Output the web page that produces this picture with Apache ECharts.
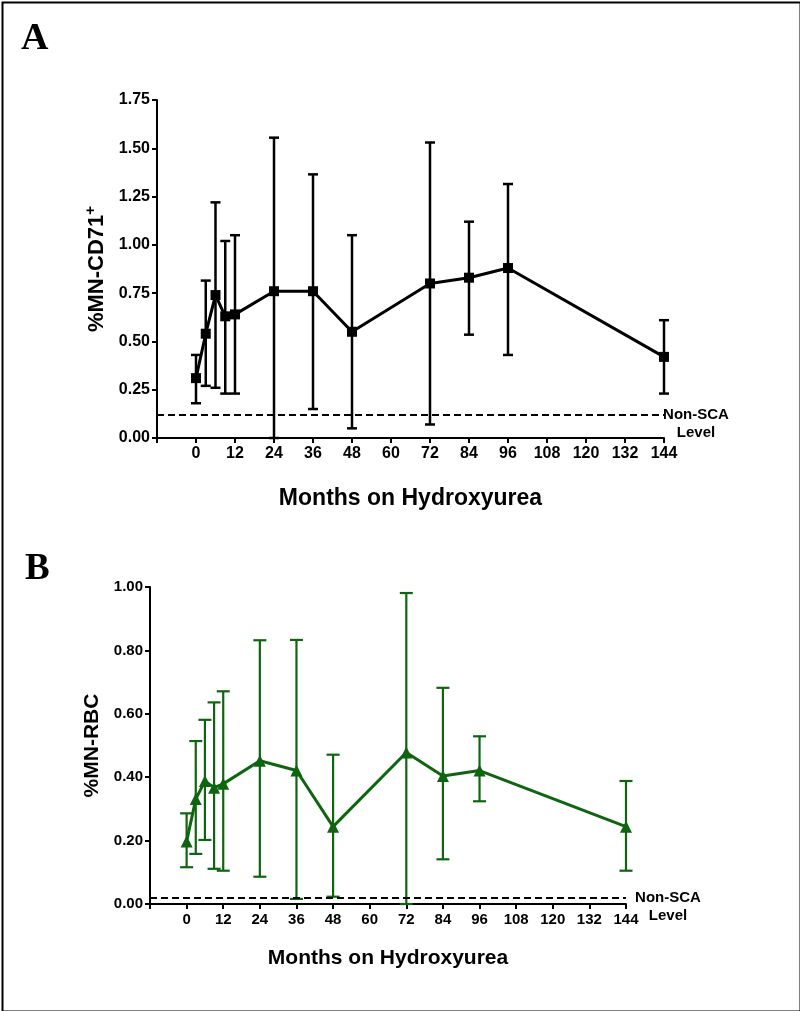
<!DOCTYPE html>
<html>
<head>
<meta charset="utf-8">
<script src="https://cdn.jsdelivr.net/npm/echarts@6/dist/echarts.min.js"></script>
<style>
html,body{margin:0;padding:0;background:#fff;}
#chart{width:800px;height:1011px;}
</style>
</head>
<body>
<div id="chart"></div>
<script>
// ---- Data ----
const months = [0, 3, 6, 9, 12, 24, 36, 48, 72, 84, 96, 144];
const xTicks = [0, 12, 24, 36, 48, 60, 72, 84, 96, 108, 120, 132, 144];

// Panel A: %MN-CD71+
const cd71Mean = [0.31, 0.54, 0.74, 0.63, 0.64, 0.76, 0.76, 0.55, 0.80, 0.83, 0.88, 0.42];
const cd71Low  = [0.18, 0.27, 0.26, 0.23, 0.23, 0.00, 0.15, 0.05, 0.07, 0.535, 0.43, 0.23];
const cd71High = [0.43, 0.815, 1.22, 1.02, 1.05, 1.555, 1.365, 1.05, 1.53, 1.12, 1.315, 0.61];
const cd71NonSCA = 0.12;

// Panel B: %MN-RBC
const rbcMean = [0.197, 0.331, 0.388, 0.367, 0.379, 0.452, 0.421, 0.244, 0.478, 0.404, 0.421, 0.244];
const rbcLow  = [0.116, 0.158, 0.202, 0.111, 0.105, 0.086, 0.016, 0.023, 0.0, 0.141, 0.324, 0.105];
const rbcHigh = [0.286, 0.514, 0.581, 0.636, 0.671, 0.832, 0.833, 0.471, 0.981, 0.682, 0.529, 0.388];
const rbcNonSCA = 0.02;

// ---- Build ----
const FONT = 'Liberation Sans, Arial, Helvetica, sans-serif';
const GREEN = '#0f650f';

function errData(low, high) {
  return months.map((m, i) => [m, low[i], high[i]]);
}
function errRender(capHalf, color, width) {
  return function (params, api) {
    const x = api.value(0);
    const lo = api.coord([x, api.value(1)]);
    const hi = api.coord([x, api.value(2)]);
    const st = { stroke: color, lineWidth: width, fill: null };
    return {
      type: 'group',
      children: [
        { type: 'line', shape: { x1: lo[0], y1: lo[1], x2: hi[0], y2: hi[1] }, style: st },
        { type: 'line', shape: { x1: hi[0] - capHalf, y1: hi[1], x2: hi[0] + capHalf, y2: hi[1] }, style: st },
        { type: 'line', shape: { x1: lo[0] - capHalf, y1: lo[1], x2: lo[0] + capHalf, y2: lo[1] }, style: st }
      ]
    };
  };
}
function xAxisCfg(idx, labelSize, titleSize, gap) {
  return {
    gridIndex: idx, type: 'value', min: -12, max: 144, interval: 12,
    name: 'Months on Hydroxyurea', nameLocation: 'middle', nameGap: gap,
    nameTextStyle: { fontFamily: FONT, fontWeight: 'bold', fontSize: titleSize, color: '#000' },
    axisLine: { show: true, onZero: false, lineStyle: { color: '#000', width: 2 } },
    axisTick: { show: true, length: 5, lineStyle: { color: '#000', width: 2 } },
    axisLabel: {
      fontFamily: FONT, fontWeight: 'bold', fontSize: labelSize, color: '#000', margin: 8,
      formatter: v => (xTicks.indexOf(v) >= 0 ? String(v) : '')
    },
    splitLine: { show: false }
  };
}
function yAxisCfg(idx, max, interval, labelSize, name, rich, gap) {
  return {
    gridIndex: idx, type: 'value', min: 0, max: max, interval: interval,
    name: name, nameLocation: 'middle', nameRotate: 90, nameGap: gap,
    nameTextStyle: { fontFamily: FONT, fontWeight: 'bold', color: '#000', rich: rich },
    axisLine: { show: true, onZero: false, lineStyle: { color: '#000', width: 2 } },
    axisTick: { show: true, length: 5, lineStyle: { color: '#000', width: 2 } },
    axisLabel: { fontFamily: FONT, fontWeight: 'bold', fontSize: labelSize, color: '#000', margin: 7,
      formatter: v => v.toFixed(2) },
    splitLine: { show: false }
  };
}
function refLine(y, size, dist) {
  const t = { fontFamily: FONT, fontWeight: 'bold', fontSize: size, color: '#000', lineHeight: 18, align: 'center' };
  return {
    silent: true, symbol: 'none',
    lineStyle: { type: [7, 4], color: '#000', width: 2 },
    label: {
      show: true, position: 'end', distance: dist, align: 'center',
      formatter: '{t| }\n{t|Non-SCA}\n{t|Level}',
      rich: { t: t }
    },
    data: [{ yAxis: y }]
  };
}

const option = {
  animation: false,
  backgroundColor: '#fff',
  title: [
    { text: 'A', left: 16, top: 15, textStyle: { fontFamily: 'Liberation Serif, Times New Roman, serif', fontWeight: 'bold', fontSize: 38, color: '#000' } },
    { text: 'B', left: 20, top: 546, textStyle: { fontFamily: 'Liberation Serif, Times New Roman, serif', fontWeight: 'bold', fontSize: 37, color: '#000' } }
  ],
  graphic: [
    { type: 'rect', left: 0, top: 0, shape: { x: 1, y: 1, width: 798, height: 1009 }, style: { fill: null, stroke: '#000', lineWidth: 2 }, silent: true }
  ],
  grid: [
    { left: 157, right: 136, top: 100, bottom: 573 },
    { left: 150, right: 174, top: 587, bottom: 107 }
  ],
  xAxis: [ xAxisCfg(0, 16, 23, 49), xAxisCfg(1, 15, 21, 44) ],
  yAxis: [
    yAxisCfg(0, 1.75, 0.25, 16, '{m|%MN-CD71}{s|+}',
      { m: { fontFamily: FONT, fontWeight: 'bold', fontSize: 22, color: '#000' },
        s: { fontFamily: FONT, fontWeight: 'bold', fontSize: 15, color: '#000', padding: [0, 0, 12, 0] } }, 46),
    yAxisCfg(1, 1.0, 0.2, 15, '{m|%MN-RBC}',
      { m: { fontFamily: FONT, fontWeight: 'bold', fontSize: 21, color: '#000' } }, 33)
  ],
  series: [
    {
      type: 'custom', xAxisIndex: 0, yAxisIndex: 0,
      renderItem: errRender(5, '#000', 2.5), data: errData(cd71Low, cd71High), z: 2
    },
    {
      type: 'line', xAxisIndex: 0, yAxisIndex: 0,
      data: months.map((m, i) => [m, cd71Mean[i]]),
      symbol: 'rect', symbolSize: 10,
      lineStyle: { color: '#000', width: 3 }, itemStyle: { color: '#000' },
      markLine: refLine(cd71NonSCA, 15, 32), z: 3
    },
    {
      type: 'custom', xAxisIndex: 1, yAxisIndex: 1,
      renderItem: errRender(6.5, GREEN, 2.2), data: errData(rbcLow, rbcHigh), z: 2
    },
    {
      type: 'line', xAxisIndex: 1, yAxisIndex: 1,
      data: months.map((m, i) => [m, rbcMean[i]]),
      symbol: 'triangle', symbolSize: 12,
      lineStyle: { color: GREEN, width: 3 }, itemStyle: { color: GREEN },
      markLine: refLine(rbcNonSCA, 15, 42), z: 3
    }
  ]
};

const chart = echarts.init(document.getElementById('chart'), null, { renderer: 'canvas' });
chart.setOption(option);
</script>
</body>
</html>
